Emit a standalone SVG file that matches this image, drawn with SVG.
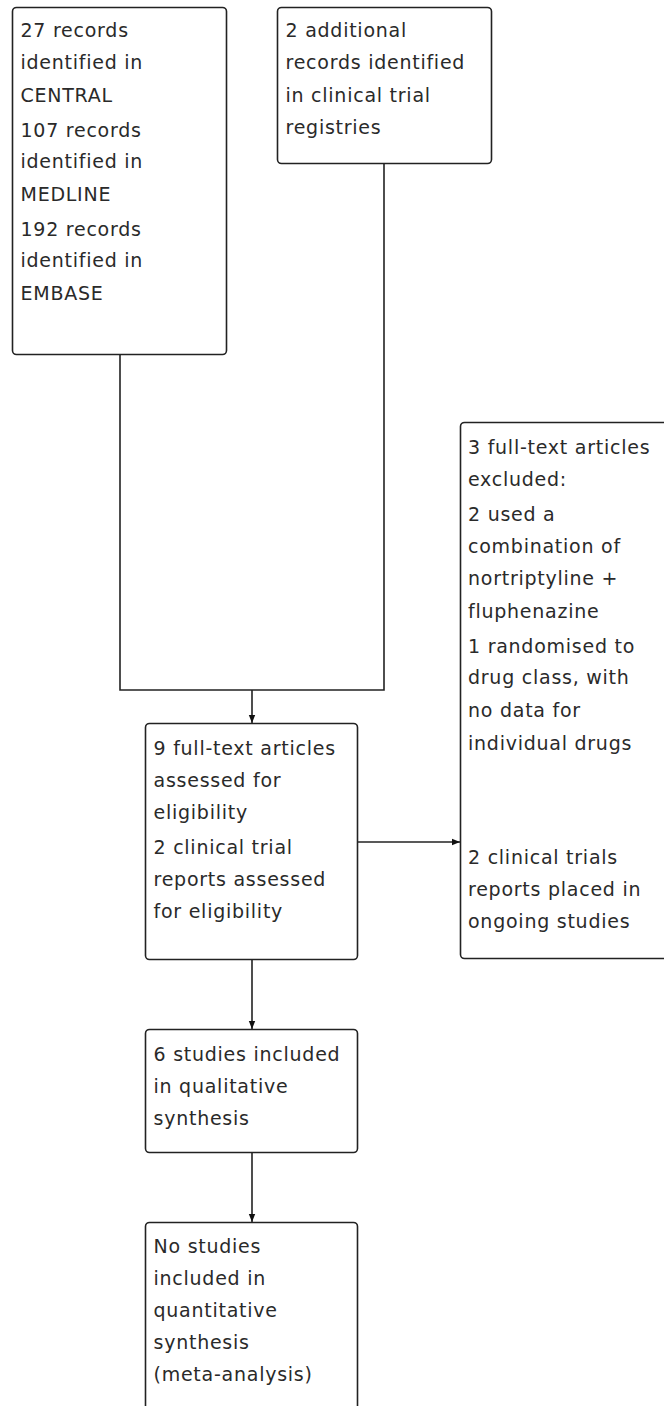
<svg xmlns="http://www.w3.org/2000/svg" width="664" height="1406" viewBox="0 0 664 1406">
<style>
.box{fill:#fff;stroke:#222;stroke-width:1.6}
.t{font-family:"DejaVu Sans",sans-serif;font-size:19px;letter-spacing:0.75px;fill:#2a2a2a}
.ln{fill:none;stroke:#222;stroke-width:1.6}
</style>
<defs>
<marker id="ah" viewBox="0 0 10 10" refX="10" refY="5" markerWidth="8" markerHeight="8" markerUnits="userSpaceOnUse" orient="auto">
<path d="M0,1 L10,5 L0,9 Z" fill="#111"/>
</marker>
</defs>
<rect width="664" height="1406" fill="#fff"/>
<g id="connectors">
<path class="ln" d="M120,355 V690 H384 V163"/>
<path class="ln" d="M252,690 V723" marker-end="url(#ah)"/>
<path class="ln" d="M358,842 H460" marker-end="url(#ah)"/>
<path class="ln" d="M252,960 V1029" marker-end="url(#ah)"/>
<path class="ln" d="M252,1153 V1222" marker-end="url(#ah)"/>
</g>
<g id="n1">
<rect class="box" x="12.5" y="7.5" width="214" height="347" rx="4"/>
<text class="t"><tspan x="20.5" y="37">27 records</tspan><tspan x="20.5" y="69">identified in</tspan><tspan x="20.5" y="102">CENTRAL</tspan><tspan x="20.5" y="137">107 records</tspan><tspan x="20.5" y="168">identified in</tspan><tspan x="20.5" y="201">MEDLINE</tspan><tspan x="20.5" y="236">192 records</tspan><tspan x="20.5" y="267">identified in</tspan><tspan x="20.5" y="300">EMBASE</tspan></text>
</g>
<g id="n2">
<rect class="box" x="277.5" y="7.5" width="214" height="156" rx="4"/>
<text class="t"><tspan x="285.5" y="37">2 additional</tspan><tspan x="285.5" y="69">records identified</tspan><tspan x="285.5" y="102">in clinical trial</tspan><tspan x="285.5" y="134">registries</tspan></text>
</g>
<g id="n3">
<rect class="box" x="460.5" y="422.5" width="210" height="536" rx="4"/>
<text class="t"><tspan x="468" y="454">3 full-text articles</tspan><tspan x="468" y="486">excluded:</tspan><tspan x="468" y="521">2 used a</tspan><tspan x="468" y="553">combination of</tspan><tspan x="468" y="585">nortriptyline +</tspan><tspan x="468" y="618">fluphenazine</tspan><tspan x="468" y="653">1 randomised to</tspan><tspan x="468" y="684">drug class, with</tspan><tspan x="468" y="717">no data for</tspan><tspan x="468" y="750">individual drugs</tspan><tspan x="468" y="864">2 clinical trials</tspan><tspan x="468" y="896">reports placed in</tspan><tspan x="468" y="928">ongoing studies</tspan></text>
</g>
<g id="n4">
<rect class="box" x="145.5" y="723.5" width="212" height="236" rx="4"/>
<text class="t"><tspan x="153.5" y="755">9 full-text articles</tspan><tspan x="153.5" y="787">assessed for</tspan><tspan x="153.5" y="819">eligibility</tspan><tspan x="153.5" y="854">2 clinical trial</tspan><tspan x="153.5" y="886">reports assessed</tspan><tspan x="153.5" y="918">for eligibility</tspan></text>
</g>
<g id="n5">
<rect class="box" x="145.5" y="1029.5" width="212" height="123" rx="4"/>
<text class="t"><tspan x="153.5" y="1061">6 studies included</tspan><tspan x="153.5" y="1093">in qualitative</tspan><tspan x="153.5" y="1125">synthesis</tspan></text>
</g>
<g id="n6">
<rect class="box" x="145.5" y="1222.5" width="212" height="220" rx="4"/>
<text class="t"><tspan x="153.5" y="1253">No studies</tspan><tspan x="153.5" y="1285">included in</tspan><tspan x="153.5" y="1317">quantitative</tspan><tspan x="153.5" y="1349">synthesis</tspan><tspan x="153.5" y="1381">(meta-analysis)</tspan></text>
</g>
</svg>
